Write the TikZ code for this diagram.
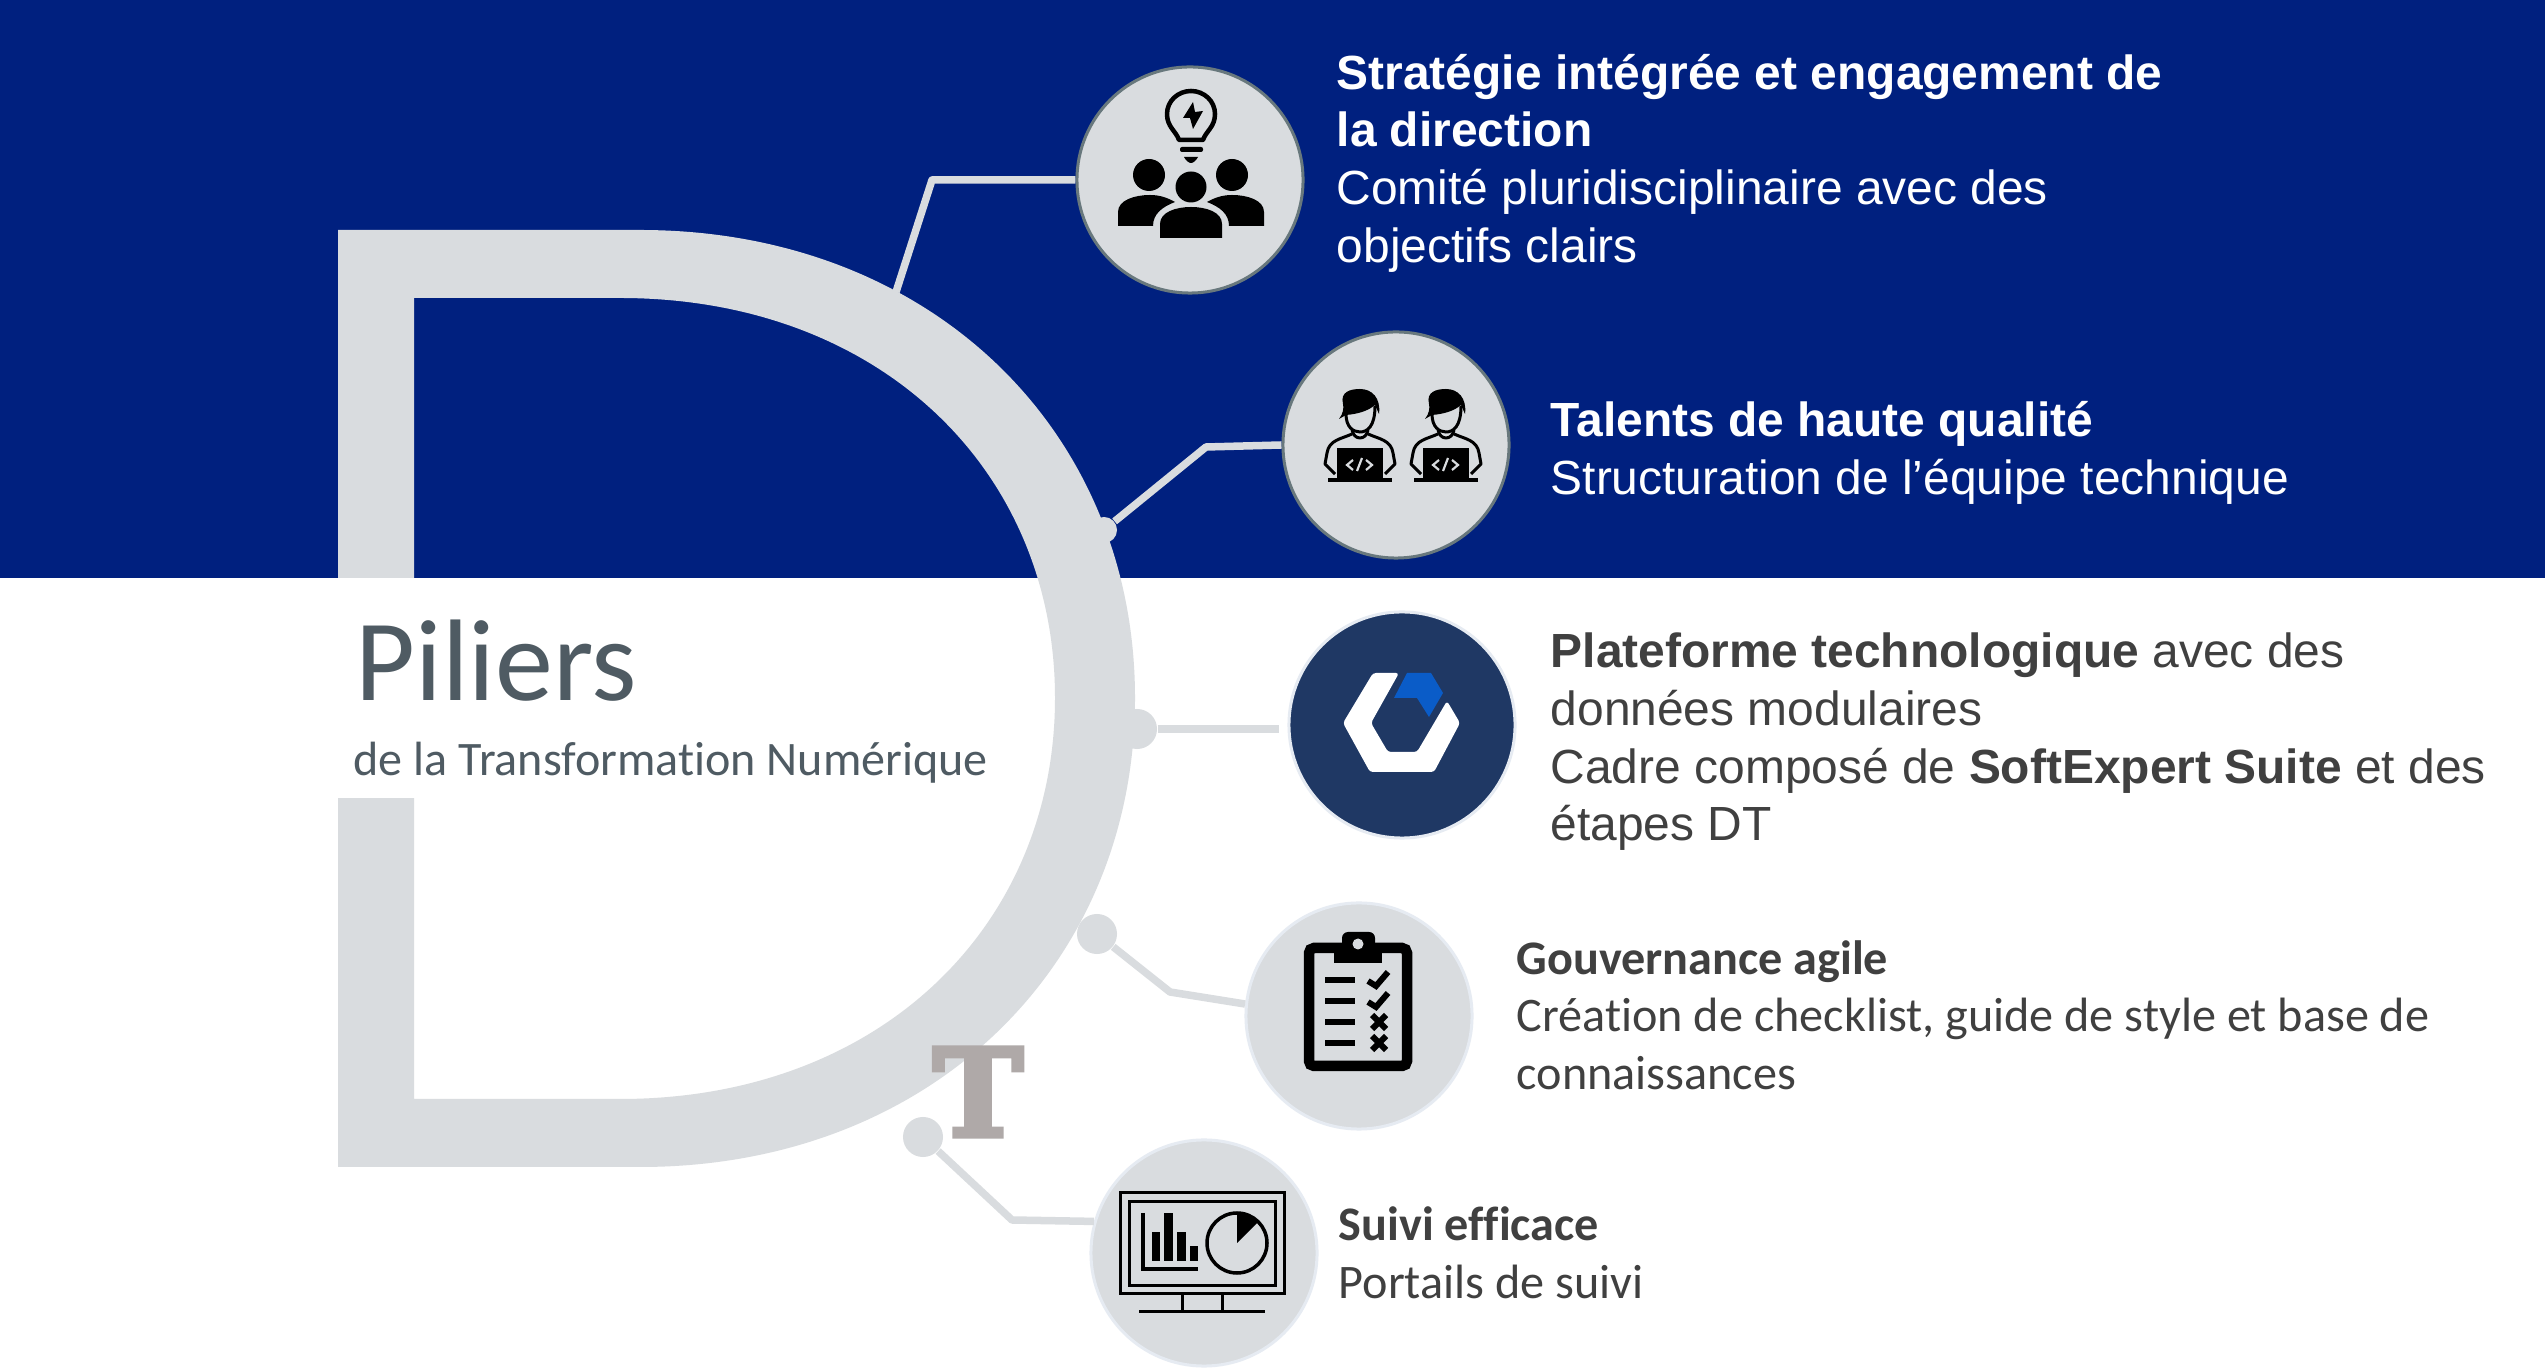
\documentclass[tikz,border=0pt]{standalone}
\usepackage{fontspec}
\setmainfont{Liberation Sans}
\newfontfamily\calfont[Ligatures=NoCommon]{Carlito}
\newfontfamily\slabfont[BoldFeatures={FakeBold=4}]{DejaVu Serif}
\definecolor{bandblue}{HTML}{00207F}
\definecolor{pale}{HTML}{D9DCDF}
\definecolor{ringgrey}{HTML}{68787D}
\definecolor{ringlight}{HTML}{E6EBF2}
\definecolor{navy}{HTML}{1F3864}
\definecolor{bright}{HTML}{0A5CC8}
\definecolor{slate}{HTML}{4F5B63}
\definecolor{bodygrey}{HTML}{404040}
\definecolor{tgrey}{HTML}{AFA9A8}
\tikzset{
  pillar/.style={circle,fill=pale,minimum size=2.26cm,inner sep=0pt,line width=0.03cm},
  knob/.style={circle,fill=pale,inner sep=0pt},
  link/.style={draw=pale,line width=0.075cm,line join=round},
  txt/.style={anchor=west,align=left,inner sep=0pt,font=\fontsize{13.63}{16.4}\selectfont},
  caltxt/.style={anchor=west,align=left,inner sep=0pt,text=bodygrey,font=\calfont\fontsize{13.7}{16.4}\selectfont},
}
\begin{document}
\begin{tikzpicture}[x=0.01cm,y=-0.01cm]
  \useasboundingbox (0,0) rectangle (2545,1371);
  \fill[white] (0,0) rectangle (2545,1371);
  \fill[bandblue] (0,0) rectangle (2545,578);
  % the big letter
  \fill[pale,even odd rule] (338,230) -- (640,230) .. controls (930,230) and (1135,430) .. (1135,698)
     .. controls (1135,966) and (930,1167) .. (640,1167) -- (338,1167) -- cycle
     (414,298) -- (620,298) .. controls (880,298) and (1055,470) .. (1055,698)
     .. controls (1055,926) and (880,1099) .. (620,1099) -- (414,1099) -- cycle;
  \fill[white] (330,578) rectangle (420,798);
  \node[font=\slabfont\bfseries\fontsize{34.5}{35}\selectfont,text=tgrey,inner sep=0pt] (letterT) at (978,1092) {T};

  % circles
  \node[pillar,draw=ringgrey] (strategie) at (1190,180) {};
  \node[pillar,draw=ringgrey] (talents) at (1396,445) {};
  \node[pillar,fill=navy,draw=ringlight] (plateforme) at (1402,725) {};
  \node[pillar,draw=ringlight] (gouvernance) at (1359,1016) {};
  \node[pillar,draw=ringlight] (suivi) at (1204,1253) {};

  % connectors
  \node[knob,minimum size=0.26cm] (k2) at (1104,530) {};
  \node[knob,minimum size=0.40cm] (k3) at (1137,729) {};
  \node[knob,minimum size=0.40cm] (k4) at (1097,934) {};
  \node[knob,minimum size=0.40cm] (k5) at (923,1137) {};
  \coordinate (k1) at (896,292);
  \coordinate (e1) at (932,180);
  \coordinate (e2) at (1206,447);
  \coordinate (e4) at (1170,992);
  \coordinate (e5) at (1012,1220);
  \draw[link] (k1) -- (e1) -- (strategie.west);
  \draw[link] (k2) -- (e2) -- (talents.west);
  \draw[link,shorten >=0.08cm] (k3) -- (k3 -| plateforme.west);
  \draw[link] (k4) -- (e4) -- (gouvernance.174);
  \draw[link] (k5) -- (e5) -- (suivi.164);

  % icon: bulb and three people
  \draw[line width=0.045cm,line join=round] (1179,140) -- (1203,140) .. controls (1206,131) and (1215,127) .. (1215,114)
     .. controls (1215,101) and (1204,91) .. (1191,91) .. controls (1178,91) and (1167,101) .. (1167,114)
     .. controls (1167,127) and (1176,131) .. (1179,140) -- cycle;
  \fill (1193,102) -- (1183,118) -- (1190,118) -- (1193,129) -- (1203,111) -- (1195,112) -- cycle;
  \fill[rounded corners=0.02cm] (1180,147) rectangle (1203,152);
  \fill (1184,157) -- (1198,157) .. controls (1196,161) and (1193,163) .. (1191,163) .. controls (1189,163) and (1186,161) .. (1184,157) -- cycle;
  \foreach \hx/\hy/\hr in {1149/175/16,1232/175/16,1191/187/15.5}
    \fill (\hx,\hy) circle (\hr);
  \fill (1118,226) -- (1118,212) .. controls (1118,200) and (1135,195) .. (1150,195) .. controls (1160,195) and (1168,198) .. (1175,202)
     .. controls (1162,207) and (1153,214) .. (1153,226) -- cycle;
  \fill (1264,226) -- (1264,212) .. controls (1264,200) and (1247,195) .. (1232,195) .. controls (1222,195) and (1214,198) .. (1207,202)
     .. controls (1220,207) and (1229,214) .. (1229,226) -- cycle;
  \fill (1160,238) -- (1160,224) .. controls (1160,212) and (1176,207) .. (1191,207) .. controls (1206,207) and (1222,212) .. (1222,224) -- (1222,238) -- cycle;

  % icon: two developers
  \foreach \dx in {0,86} {
    \begin{scope}[shift={(\dx,0)}]
      \fill (1339,419) .. controls (1343,414) and (1344,408) .. (1343,404) .. controls (1340,392) and (1350,389) .. (1360,389)
         .. controls (1372,389) and (1381,398) .. (1379,414) -- (1375,405) .. controls (1368,411) and (1358,414) .. (1346,415) -- cycle;
      \draw[line width=0.03cm] (1346,414) .. controls (1346,427) and (1353,432) .. (1360,432) .. controls (1367,432) and (1375,427) .. (1375,406);
      \draw[line width=0.03cm,line join=round] (1352,430) .. controls (1353,435) and (1356,438) .. (1360,438) .. controls (1364,438) and (1367,435) .. (1368,430);
      \draw[line width=0.03cm,line join=round] (1352,434) .. controls (1341,439) and (1329,440) .. (1327,453) -- (1325,464) -- (1335,474);
      \draw[line width=0.03cm,line join=round] (1368,434) .. controls (1379,439) and (1391,440) .. (1393,453) -- (1395,464) -- (1385,474);
      \fill (1337,448) rectangle (1383,478);
      \fill (1328,478) rectangle (1392,482);
      \draw[pale,line width=0.022cm] (1353,460) -- (1347,465) -- (1353,470) (1362,458) -- (1357,471) (1366,460) -- (1372,465) -- (1366,470);
    \end{scope}
  }

  % icon: hexagon logo
  \fill[white,rounded corners=0.03cm] (1373,673) -- (1399,673) -- (1371,723) -- (1388,752) -- (1417,752) -- (1447,701)
     -- (1460,723) -- (1434,772) -- (1370,772) -- (1343,723) -- cycle;
  \fill[bright] (1407,673) -- (1431,673) -- (1443,693) -- (1429,717) -- (1417,698) -- (1394,698) -- cycle;

  % icon: checklist
  \draw[line width=0.105cm,rounded corners=0.05cm] (1309,948) rectangle (1407,1066);
  \fill (1334,943) rectangle (1382,963);
  \fill[rounded corners=0.06cm] (1342,932) rectangle (1375,950);
  \fill[pale] (1358,944) circle (5.5);
  \foreach \ly in {980,1001,1022,1043}
    \fill (1325,\ly-3) rectangle (1355,\ly+3);
  \foreach \ly in {0,21}
    \draw[line width=0.06cm] (1368,981+\ly) -- (1376,986+\ly) -- (1388,972+\ly);
  \foreach \ly in {1022,1043}
    \draw[line width=0.06cm] (1372,\ly-7) -- (1386,\ly+7) (1372,\ly+7) -- (1386,\ly-7);

  % icon: monitor
  \draw[line width=0.03cm] (1120,1193) rectangle (1284,1294);
  \draw[line width=0.03cm] (1129,1202) rectangle (1275,1286);
  \draw[line width=0.03cm] (1182,1294) -- (1182,1311) (1222,1294) -- (1222,1311) (1139,1312) -- (1265,1312);
  \draw[line width=0.045cm] (1143,1213) -- (1143,1269) -- (1198,1269);
  \fill (1152,1232) rectangle (1160,1261);
  \fill (1164,1213) rectangle (1173,1261);
  \fill (1177,1232) rectangle (1186,1261);
  \fill (1190,1246) rectangle (1198,1261);
  \draw[line width=0.035cm] (1237,1243) circle (30);
  \fill (1237,1243) -- (1237,1213) .. controls (1245,1213) and (1252,1216) .. (1258,1222) -- cycle;

  % texts
  \node[txt,text=white] (t1) at (1336,163) {\textbf{Stratégie intégrée et engagement de}\\\textbf{la direction}\\Comité pluridisciplinaire avec des\\objectifs clairs};
  \node[txt,text=white] (t2) at (1550,453) {\textbf{Talents de haute qualité}\\Structuration de l’équipe technique};
  \node[txt,text=bodygrey] (t3) at (1550,742) {\textbf{Plateforme technologique} avec des\\données modulaires\\Cadre composé de \textbf{SoftExpert Suite} et des\\étapes DT};
  \node[caltxt] (t4) at (1516,1015) {\textbf{Gouvernance agile}\\Création de checklist, guide de style et base de\\connaissances};
  \node[caltxt] (t5) at (1338,1253) {\textbf{Suivi efficace}\\Portails de suivi};
  \node[anchor=west,inner sep=0pt,text=slate,font=\calfont\fontsize{33}{36}\selectfont] (titre) at (355,661) {Piliers};
  \node[anchor=west,inner sep=0pt,text=slate,font=\calfont\fontsize{13.67}{16}\selectfont] (soustitre) at (353,763) {de la Transformation Numérique};
\end{tikzpicture}
\end{document}
